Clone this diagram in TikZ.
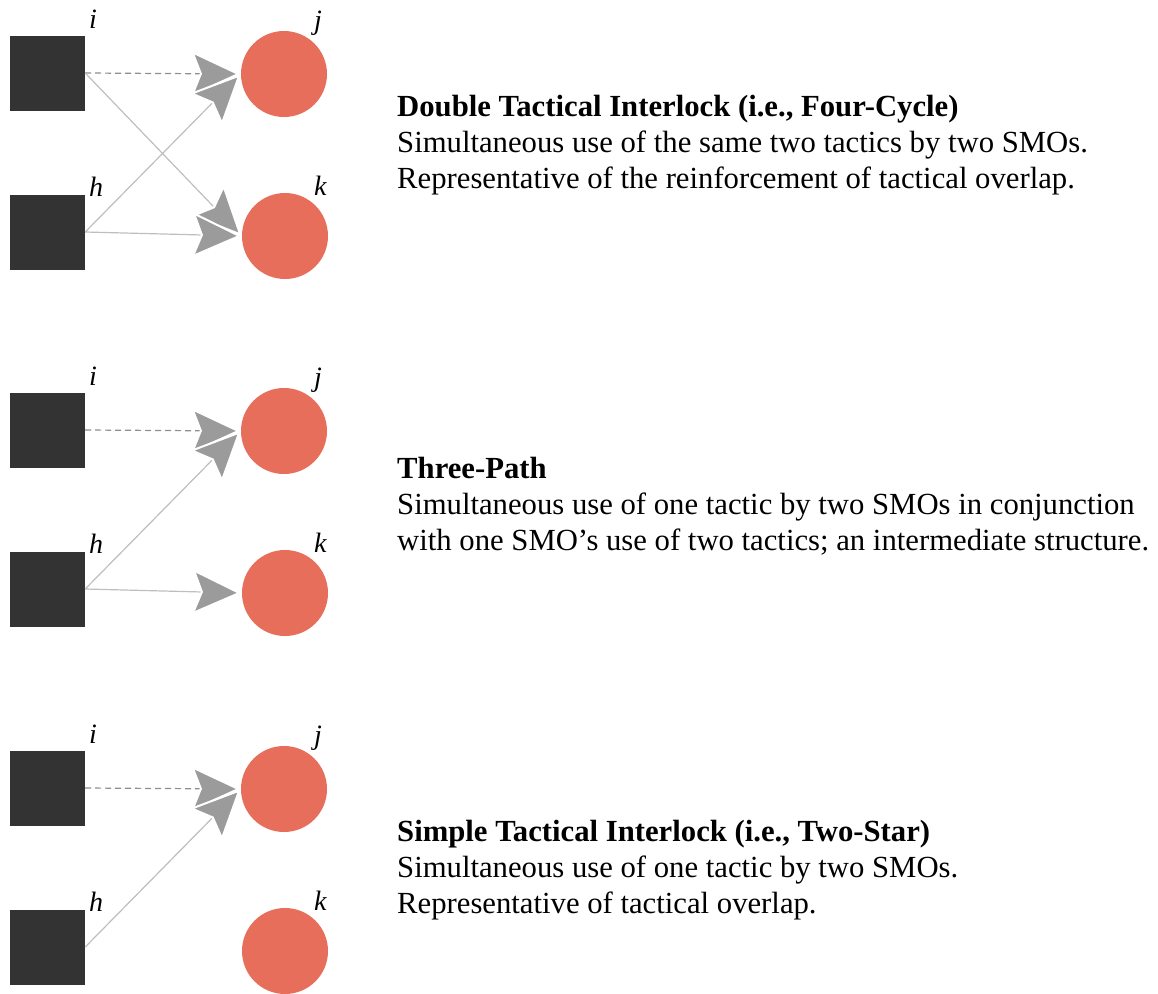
\documentclass[tikz,border=0pt]{standalone}
\usepackage{fontspec}
\setmainfont{Liberation Serif}
\usetikzlibrary{arrows.meta,positioning}
\definecolor{smogray}{HTML}{333333}
\definecolor{tacticred}{HTML}{E86E5C}
\definecolor{tipgray}{HTML}{9B9B9C}
\definecolor{linegray}{HTML}{BEBEBE}
\definecolor{dashgray}{HTML}{8E8E8E}
\tikzset{
  smobox/.style={fill=smogray, minimum size=75pt, inner sep=0pt},
  tacticdot/.style={circle, fill=tacticred, minimum size=86pt, inner sep=0pt},
  lbl/.style={anchor=base west, inner sep=0pt, font=\fontsize{28}{28}\selectfont\itshape},
  desc/.style={anchor=base west, align=left, inner sep=0pt, font=\fontsize{30.7}{36}\selectfont},
  usetip/.style={-{Stealth[length=50pt, width=46pt, inset=9pt, fill=tipgray, color=white, line width=2pt]}},
  uses/.style={usetip, draw=linegray, line width=1.2pt},
  usesdash/.style={usetip, draw=dashgray, line width=1.2pt, dash pattern=on 6pt off 4pt}
}

\begin{document}
\begin{tikzpicture}[x=1pt, y=-1pt]
    \useasboundingbox (0,0) rectangle (1158,993);
    % SMOs, tactics and their labels
    \foreach \p/\dy in {1/0, 2/357, 3/715} {
        \node[smobox] (i\p) at (47.5, 73+\dy) {};
        \node[smobox] (h\p) at (47.5, 232+\dy) {};
        \node[tacticdot] (j\p) at (284, 74+\dy) {};
        \node[tacticdot] (k\p) at (285, 236+\dy) {};
        \node[lbl] (li\p) at (89, 28+\dy) {i};
        \node[lbl] (lh\p) at (89, 196+\dy) {h};
        \node[lbl] (lj\p) at (314, 29+\dy) {j};
        \node[lbl] (lk\p) at (314, 195+\dy) {k};
    }
    % four-cycle
    \draw[usesdash] (i1.east) -- (j1.west);
    \draw[uses] (i1.east) -- (k1.west);
    \draw[uses] (h1.east) -- (j1.west);
    \draw[uses] (h1.east) -- (k1.west);
    % three-path
    \draw[usesdash] (i2.east) -- (j2.west);
    \draw[uses] (h2.east) -- (j2.west);
    \draw[uses] (h2.east) -- (k2.west);
    % two-star
    \draw[usesdash] (i3.east) -- (j3.west);
    \draw[uses] (h3.east) -- (j3.west);
    % descriptions (base = last line)
    \node[desc] (d1) at (397, 188) {\textbf{Double Tactical Interlock (i.e., Four-Cycle)}\\
        Simultaneous use of the same two tactics by two SMOs.\\
        Representative of the reinforcement of tactical overlap.};
    \node[desc] (d2) at (397, 550) {\textbf{Three-Path}\\
        Simultaneous use of one tactic by two SMOs in conjunction\\
        with one SMO’s use of two tactics; an intermediate structure.};
    \node[desc] (d3) at (397, 913) {\textbf{Simple Tactical Interlock (i.e., Two-Star)}\\
        Simultaneous use of one tactic by two SMOs.\\
        Representative of tactical overlap.};
\end{tikzpicture}
\end{document}
